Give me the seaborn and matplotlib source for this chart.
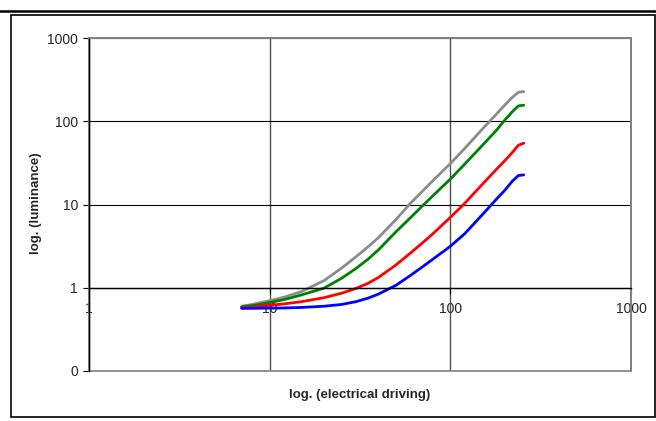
import pandas as pd
import seaborn as sns
import matplotlib.pyplot as plt
from matplotlib.patches import Rectangle
from matplotlib.lines import Line2D
from matplotlib.ticker import NullLocator

sns.set_style("white")
plt.rcParams["font.family"] = ["Liberation Sans", "DejaVu Sans"]

# values
driving = [7, 8, 10, 12, 15, 20, 25, 30, 35, 40, 50, 60, 70, 80, 100, 120, 150, 180, 200, 220, 238, 255]
grey_lum = [0.60, 0.63, 0.70, 0.77, 0.90, 1.22, 1.72, 2.35, 3.1, 4.0, 6.6, 10.3, 14.4, 19.3, 31, 47, 80, 122, 156, 193, 223, 227]
green_lum = [0.59, 0.61, 0.665, 0.72, 0.82, 0.99, 1.3, 1.7, 2.2, 2.85, 4.7, 6.9, 9.6, 12.7, 20.2, 30.5, 51, 78, 103, 130, 153, 156]
red_lum = [0.575, 0.585, 0.615, 0.64, 0.68, 0.76, 0.86, 0.98, 1.13, 1.33, 1.88, 2.6, 3.45, 4.45, 7.0, 10.3, 17.4, 26.5, 33.5, 42, 51.5, 54.6]
blue_lum = [0.565, 0.566, 0.57, 0.572, 0.58, 0.60, 0.63, 0.68, 0.75, 0.84, 1.07, 1.4, 1.78, 2.2, 3.15, 4.45, 7.5, 11.6, 14.8, 19, 22.3, 22.7]

series = ["grey", "green", "red", "blue"]
colors = {"grey": "#8c8c8c", "green": "#008000", "red": "#ff0000", "blue": "#0000ff"}

xtick_vals = [1, 10, 100, 1000]
xtick_labels = ["1", "10", "100", "1000"]
ytick_vals = [0.1, 1, 10, 100, 1000]
ytick_labels = ["0", "1", "10", "100", "1000"]

df = pd.DataFrame({
    "driving": driving * 4,
    "lum": grey_lum + green_lum + red_lum + blue_lum,
    "series": sum([[s] * len(driving) for s in series], []),
})

W, H = 656, 421
fig = plt.figure(figsize=(W / 100, H / 100), dpi=100)
ax = fig.add_axes([89 / W, 1 - 371 / H, 542 / W, 333 / H])
ax.set_xscale("log")
ax.set_yscale("log")

sns.lineplot(data=df, x="driving", y="lum", hue="series", palette=colors,
             estimator=None, sort=False, lw=2.0, legend=False, ax=ax)

ax.set_xlim(1, 1000)
ax.set_ylim(0.1, 1000)
ax.set_xticks(xtick_vals)
ax.set_xticklabels(xtick_labels)
ax.set_yticks(ytick_vals)
ax.set_yticklabels(ytick_labels)
ax.xaxis.set_minor_locator(NullLocator())
ax.yaxis.set_minor_locator(NullLocator())
ax.set_xlabel("")
ax.set_ylabel("")

ax.xaxis.grid(True, color="#505050", lw=1.0)
ax.yaxis.grid(True, color="black", lw=0.8)

# horizontal axis crosses at 1, like the spreadsheet original
ax.spines["bottom"].set_position(("data", 1))
ax.spines["bottom"].set_color("black")
ax.spines["bottom"].set_linewidth(1.0)
ax.spines["left"].set_color("black")
ax.spines["left"].set_linewidth(1.0)
for s in ["top", "right"]:
    ax.spines[s].set_color("#808080")
    ax.spines[s].set_linewidth(1.2)
ax.add_patch(Rectangle((0, 0), 1, 1, transform=ax.transAxes, fill=False,
                       ec="#808080", lw=1.2, clip_on=False, zorder=2.4))

ax.tick_params(axis="both", which="major", direction="out", length=4, width=0.8,
               color="black", labelsize=10, bottom=True, left=True)
ax.tick_params(axis="x", pad=6)
ax.tick_params(axis="y", pad=4)

fig.text(360 / W, 1 - 395 / H, "log. (electrical driving)", ha="center", va="center",
         fontsize=9.5, fontweight="bold")
fig.text(36 / W, 1 - 203 / H, "log. (luminance)", ha="center", va="center",
         fontsize=9.5, fontweight="bold", rotation=90)

# outer frame and the heavy rule above it
fig.add_artist(Rectangle((11 / W, 1 - 417 / H), 644 / W, 402 / H, transform=fig.transFigure,
                         fill=False, ec="black", lw=1.2))
fig.add_artist(Line2D([0, 1], [1 - 10.5 / H, 1 - 10.5 / H], transform=fig.transFigure,
                      color="black", lw=1.8))

fig.savefig("out.png", dpi=100)
